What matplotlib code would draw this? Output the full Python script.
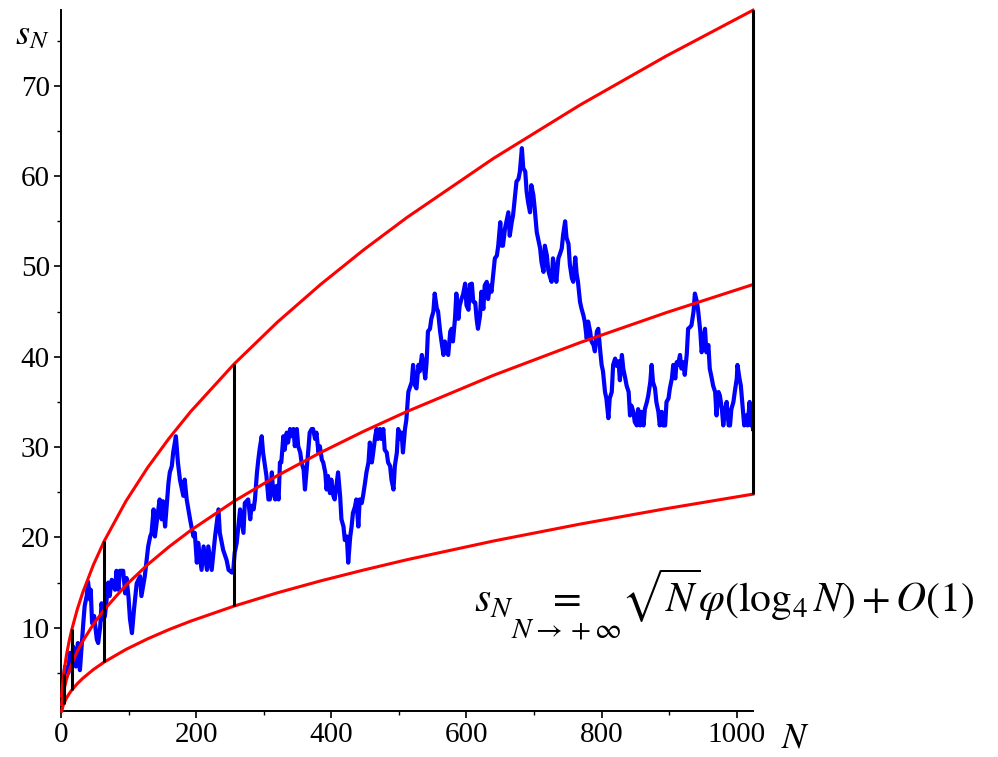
import matplotlib
matplotlib.use("Agg")
import matplotlib.pyplot as plt

plt.rcParams['font.family'] = ['Liberation Serif', 'DejaVu Serif']
plt.rcParams['mathtext.fontset'] = 'stix'

# blue path s_N (N, value)
blue_n = [1, 6, 11, 13, 16, 18, 22, 25, 28, 33, 35, 38, 40, 43, 44, 46, 49, 53, 55, 58,
          60, 63, 65, 70, 72, 75, 80, 82, 85, 87, 92, 95, 97, 100, 102, 105, 108, 112, 117, 119,
          124, 129, 132, 134, 137, 139, 144, 146, 149, 151, 154, 156, 159, 161, 164, 166, 170, 173, 176, 181,
          183, 186, 191, 193, 196, 198, 201, 203, 208, 211, 216, 218, 223, 228, 233, 235, 240, 245, 248, 253,
          255, 257, 260, 265, 270, 272, 277, 280, 282, 285, 287, 290, 292, 294, 297, 299, 304, 307, 309, 312,
          314, 317, 319, 322, 324, 326, 329, 331, 334, 336, 339, 341, 344, 346, 349, 351, 354, 356, 359, 361,
          364, 366, 368, 371, 373, 376, 378, 381, 383, 386, 388, 391, 393, 395, 398, 400, 403, 405, 410, 413,
          415, 418, 420, 423, 425, 428, 430, 432, 435, 437, 440, 442, 445, 447, 450, 452, 455, 457, 460, 462,
          465, 467, 469, 472, 474, 477, 479, 482, 484, 487, 489, 492, 494, 497, 499, 502, 504, 506, 509, 511,
          514, 519, 521, 524, 526, 529, 531, 534, 536, 539, 541, 543, 546, 548, 551, 553, 556, 558, 561, 563,
          566, 568, 571, 573, 576, 578, 580, 583, 585, 588, 590, 593, 595, 598, 600, 603, 605, 608, 610, 613,
          615, 617, 620, 622, 625, 627, 630, 632, 635, 637, 640, 642, 645, 647, 650, 652, 654, 657, 659, 662,
          664, 667, 669, 672, 674, 677, 679, 682, 684, 687, 689, 691, 694, 696, 699, 701, 704, 706, 709, 711,
          714, 716, 719, 721, 723, 726, 728, 731, 733, 736, 738, 741, 743, 746, 748, 751, 753, 756, 758, 761,
          763, 765, 768, 770, 773, 775, 778, 780, 783, 785, 788, 790, 793, 795, 798, 800, 802, 805, 807, 810,
          812, 815, 817, 820, 822, 825, 827, 830, 832, 835, 837, 840, 842, 844, 847, 849, 852, 854, 857, 859,
          862, 864, 867, 869, 872, 874, 876, 879, 881, 884, 886, 889, 891, 894, 896, 899, 901, 904, 906, 909,
          911, 913, 916, 918, 921, 923, 926, 928, 931, 933, 936, 938, 941, 943, 946, 948, 950, 953, 955, 958,
          960, 963, 965, 968, 970, 973, 975, 978, 980, 983, 985, 988, 990, 992, 995, 997, 1000, 1001, 1004, 1006,
          1009, 1011, 1014, 1016, 1019, 1021, 1023, 1024]
blue_s = [1.2, 5.7, 5.0, 7.2, 6.0, 7.9, 5.7, 8.3, 5.3, 10.5, 12.4, 13.5, 15.1, 13.1, 14.2, 10.5, 11.3, 8.7, 8.3, 10.1,
          12.7, 10.9, 11.3, 15.0, 13.5, 15.3, 14.2, 16.3, 14.2, 16.3, 16.3, 13.8, 15.5, 13.3, 11.0, 9.4, 12.0, 14.9, 15.7, 13.5,
          15.7, 19.0, 20.1, 20.5, 23.1, 20.1, 23.1, 24.2, 22.0, 24.0, 21.2, 23.1, 26.0, 27.2, 27.9, 29.4, 31.2, 28.3, 26.4, 24.6,
          26.4, 24.2, 22.0, 21.2, 20.1, 20.5, 17.2, 19.4, 16.4, 19.0, 16.4, 19.0, 16.4, 20.1, 23.1, 20.5, 18.6, 17.5, 16.4, 16.1,
          16.4, 18.3, 19.4, 23.1, 20.5, 23.8, 24.2, 22.0, 23.5, 23.1, 24.2, 27.2, 28.6, 29.8, 31.2, 29.4, 26.8, 24.2, 24.2, 27.2,
          25.0, 24.2, 25.7, 24.2, 28.3, 28.3, 31.2, 29.7, 31.6, 30.5, 32.0, 31.2, 32.0, 30.1, 32.0, 30.1, 29.4, 28.3, 27.5, 25.3,
          27.9, 29.7, 31.6, 32.0, 32.0, 30.9, 31.6, 29.4, 30.1, 28.6, 28.3, 27.2, 25.3, 26.8, 24.9, 26.4, 24.6, 24.2, 27.2, 24.6,
          22.0, 21.2, 19.7, 20.1, 17.2, 20.1, 21.2, 22.7, 23.4, 24.2, 21.2, 24.2, 23.8, 24.6, 26.1, 27.2, 28.3, 30.5, 28.3, 29.4,
          31.2, 32.0, 30.9, 32.0, 30.9, 32.0, 29.7, 29.4, 28.3, 27.9, 26.4, 25.3, 27.9, 29.4, 32.0, 30.9, 31.6, 29.4, 32.0, 33.0,
          36.1, 37.2, 39.1, 36.8, 36.5, 39.1, 38.4, 40.2, 39.4, 37.6, 39.4, 42.8, 43.1, 44.2, 45.0, 47.0, 45.4, 45.0, 42.8, 41.7,
          40.2, 41.7, 40.5, 40.2, 42.8, 43.1, 41.7, 44.2, 47.0, 44.2, 45.7, 46.5, 46.9, 48.1, 45.7, 45.2, 48.0, 48.1, 46.1, 46.0,
          44.2, 43.1, 44.5, 47.2, 45.3, 47.9, 48.3, 46.4, 47.9, 47.2, 49.4, 50.9, 51.2, 52.3, 54.9, 52.3, 52.3, 54.2, 54.9, 56.0,
          53.4, 54.9, 55.7, 57.9, 59.4, 59.7, 60.5, 63.1, 60.9, 60.5, 58.3, 57.2, 56.0, 59.0, 57.9, 56.4, 53.8, 53.1, 52.0, 50.5,
          49.4, 52.3, 51.2, 49.6, 49.0, 48.3, 50.9, 49.6, 48.3, 50.9, 51.3, 52.0, 53.5, 55.0, 53.2, 52.5, 50.2, 48.7, 48.3, 51.0,
          49.2, 48.3, 46.1, 45.4, 44.6, 43.9, 42.0, 43.9, 42.8, 41.7, 41.3, 40.6, 42.8, 43.1, 40.6, 39.1, 38.4, 36.1, 35.4, 33.2,
          35.4, 36.1, 39.1, 39.8, 39.0, 39.5, 37.4, 40.2, 38.7, 37.6, 36.8, 36.1, 33.5, 34.6, 33.9, 32.8, 32.4, 34.2, 32.4, 33.9,
          32.4, 34.2, 35.0, 35.7, 37.2, 39.1, 37.2, 36.5, 35.0, 33.9, 32.4, 33.9, 32.4, 32.4, 35.0, 35.4, 36.5, 37.6, 39.1, 37.6,
          39.4, 39.1, 40.2, 38.7, 39.4, 38.0, 40.3, 43.1, 43.3, 43.5, 45.0, 47.0, 46.1, 45.0, 42.8, 40.5, 41.3, 43.1, 40.5, 41.3,
          38.7, 37.6, 36.8, 36.1, 33.5, 36.1, 35.7, 34.2, 32.4, 34.2, 35.0, 32.4, 32.4, 34.2, 35.0, 36.1, 37.6, 39.1, 37.6, 36.8,
          34.2, 32.4, 33.5, 32.4, 35.0, 32.4, 33.9, 32.0]

# red envelope curves
red_n = [1, 2, 4, 8, 12, 16, 24, 32, 48, 64, 96, 128, 160, 192, 256, 320, 384, 448, 512, 640, 768, 896, 1024]
red_top = [2.45, 3.46, 4.9, 6.93, 8.49, 9.8, 12.0, 13.86, 16.97, 19.6, 24.0, 27.71, 30.98, 33.94, 39.19,
           43.82, 48.0, 51.85, 55.43, 61.97, 67.88, 73.32, 78.38]
red_mid = [1.5, 2.12, 3.0, 4.24, 5.2, 6.0, 7.35, 8.49, 10.39, 12.0, 14.7, 16.97, 18.97, 20.78, 24.0,
           26.83, 29.39, 31.75, 33.94, 37.95, 41.57, 44.9, 48.0]
red_low = [0.77, 1.1, 1.55, 2.19, 2.68, 3.1, 3.79, 4.38, 5.37, 6.2, 7.59, 8.76, 9.8, 10.73, 12.39,
           13.86, 15.18, 16.39, 17.53, 19.6, 21.47, 23.19, 24.79]

# black vertical segments at N = 4^k
seg_n = [4, 16, 64, 256, 1024]
seg_low = [1.55, 3.1, 6.2, 12.39, 24.79]
seg_top = [4.9, 9.8, 19.6, 39.19, 78.38]

fig = plt.figure(figsize=(9.98, 7.57), dpi=100)
ax = fig.add_axes([61 / 998, 1 - 711 / 757, (753 - 61) / 998, (711 - 10) / 757])

ax.plot(blue_n, blue_s, color='#0000ff', lw=3.0, zorder=2, solid_joinstyle='round')
for vals in (red_top, red_mid, red_low):
    ax.plot(red_n, vals, color='#ff0000', lw=2.2, zorder=3, clip_on=False)
ax.vlines(seg_n, seg_low, seg_top, color='black', lw=2.2, zorder=4, clip_on=False)

ax.set_xlim(0, 1024)
ax.set_ylim(0.775, 78.4)
ax.spines['top'].set_visible(False)
ax.spines['right'].set_visible(False)
for sp in ('left', 'bottom'):
    ax.spines[sp].set_linewidth(1.4)

ax.set_xticks([0, 200, 400, 600, 800, 1000])
ax.set_xticks([100, 300, 500, 700, 900], minor=True)
ax.set_yticks([10, 20, 30, 40, 50, 60, 70])
ax.set_yticks([5, 15, 25, 35, 45, 55, 65, 75], minor=True)
ax.tick_params(which='major', length=5, width=1.2, labelsize=21, pad=3)
ax.tick_params(which='minor', length=3, width=1.0)

fig.text(15 / 998, 1 - 44 / 757, r'$s_N$', fontsize=26, va='baseline')
fig.text(781 / 998, 1 - 747 / 757, r'$N$', fontsize=26, va='baseline')
fig.text(474 / 998, 1 - 612 / 757,
         r'$s_N \underset{N\to+\infty}{=} \sqrt{N}\varphi(\log_4 N)+O(1)$',
         fontsize=30, va='baseline')

fig.savefig('out.png', dpi=100)
